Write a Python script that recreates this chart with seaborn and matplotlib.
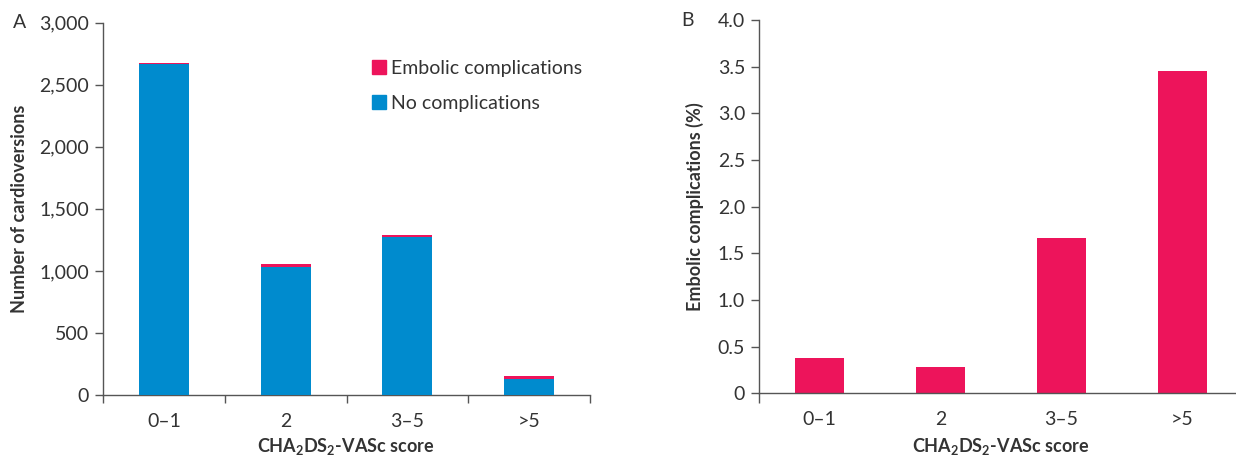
import matplotlib
matplotlib.use("Agg")
import matplotlib.pyplot as plt
import seaborn as sns
import pandas as pd
from matplotlib.patches import Patch

# ---- data ----
categories = ["0\u20131", "2", "3\u20135", ">5"]
no_complications = [2667, 1030, 1272, 131]
embolic_complications = [12, 24, 16, 20]
embolic_pct = [0.38, 0.28, 1.66, 3.45]
yticks_a = [0, 500, 1000, 1500, 2000, 2500, 3000]
yticklabels_a = ["0", "500", "1,000", "1,500", "2,000", "2,500", "3,000"]
yticks_b = [0, 0.5, 1.0, 1.5, 2.0, 2.5, 3.0, 3.5, 4.0]
yticklabels_b = ["0", "0.5", "1.0", "1.5", "2.0", "2.5", "3.0", "3.5", "4.0"]

BLUE = "#008BCE"
PINK = "#ED145B"
AXC = "#555555"
TXT = "#333333"

sns.set_theme(style="ticks")
plt.rcParams["font.family"] = ["Lato", "DejaVu Sans"]
plt.rcParams["mathtext.fontset"] = "custom"
plt.rcParams["mathtext.rm"] = "Lato"
plt.rcParams["mathtext.bf"] = "Lato:bold"
plt.rcParams["text.color"] = TXT

df = pd.DataFrame({
    "cat": categories,
    "total": [a + b for a, b in zip(no_complications, embolic_complications)],
    "none": no_complications,
    "pct": embolic_pct,
})

W, H = 1236, 458
fig = plt.figure(figsize=(W / 100, H / 100), dpi=100)

def px_axes(left, right, top, bottom):
    return fig.add_axes([left / W, 1 - bottom / H, (right - left) / W, (bottom - top) / H])

axA = px_axes(103, 590, 22.7, 395)
axB = px_axes(759, 1243, 20, 393.3)

FS = 14
LFS = 13

# Panel A
sns.barplot(data=df, x="cat", y="total", order=categories, color=PINK, width=0.41,
            saturation=1, ax=axA, zorder=2, linewidth=0)
sns.barplot(data=df, x="cat", y="none", order=categories, color=BLUE, width=0.41,
            saturation=1, ax=axA, zorder=3, linewidth=0)
axA.set_ylim(0, 3000)
axA.set_xlim(-0.5, 3.5)
axA.set_yticks(yticks_a)
axA.set_yticklabels(yticklabels_a)
axA.set_xticks([-0.5, 0.5, 1.5, 2.5, 3.5], minor=True)
axA.tick_params(axis="x", which="minor", length=6, width=1.0, color=AXC, direction="out")
axA.tick_params(axis="x", which="major", length=0, pad=13, labelsize=FS, labelcolor=TXT)
axA.tick_params(axis="y", length=6, width=1.0, color=AXC, pad=4, labelsize=FS, labelcolor=TXT)
axA.set_xlabel("")
axA.set_ylabel("Number of cardioversions", fontsize=LFS, fontweight="bold", labelpad=8, color=TXT)
leg = axA.legend(handles=[Patch(color=PINK, label="Embolic complications"),
                          Patch(color=BLUE, label="No complications")],
                 loc="upper left", bbox_to_anchor=(372 / W, 1 - 60 / H), bbox_transform=fig.transFigure,
                 frameon=False, fontsize=FS, handlelength=0.7, handleheight=0.7,
                 handletextpad=0.3, labelspacing=0.9, borderpad=0, borderaxespad=0)
for t in leg.get_texts():
    t.set_color(TXT)

# Panel B
sns.barplot(data=df, x="cat", y="pct", order=categories, color=PINK, width=0.40,
            saturation=1, ax=axB, zorder=2, linewidth=0)
axB.set_ylim(0, 4.0)
axB.set_xlim(-0.5, 3.5)
axB.set_yticks(yticks_b)
axB.set_yticklabels(yticklabels_b)
axB.set_xticks([-0.5], minor=True)
axB.tick_params(axis="x", which="minor", length=7, width=1.0, color=AXC, direction="out")
axB.tick_params(axis="x", which="major", length=0, pad=13, labelsize=FS, labelcolor=TXT)
axB.tick_params(axis="y", length=6, width=1.0, color=AXC, pad=4, labelsize=FS, labelcolor=TXT)
axB.set_xlabel("")
axB.set_ylabel("Embolic complications (%)", fontsize=LFS, fontweight="bold", labelpad=10, color=TXT)

for ax in (axA, axB):
    sns.despine(ax=ax)
    for s in ("left", "bottom"):
        ax.spines[s].set_color(AXC)
        ax.spines[s].set_linewidth(1.0)
    ax.set_facecolor("white")

xlab = "CHA$_\\mathbf{2}$DS$_\\mathbf{2}$-VASc score"
fig.text(346 / W, 1 - 452 / H, xlab, fontsize=LFS, fontweight="bold", ha="center", va="baseline", color=TXT)
fig.text(1001 / W, 1 - 452 / H, xlab, fontsize=LFS, fontweight="bold", ha="center", va="baseline", color=TXT)

fig.text(13 / W, 1 - 22 / H, "A", fontsize=FS, va="center", ha="left", color=TXT)
fig.text(681 / W, 1 - 21 / H, "B", fontsize=FS, va="center", ha="left", color=TXT)

fig.savefig("out.png", dpi=100, facecolor="white")
